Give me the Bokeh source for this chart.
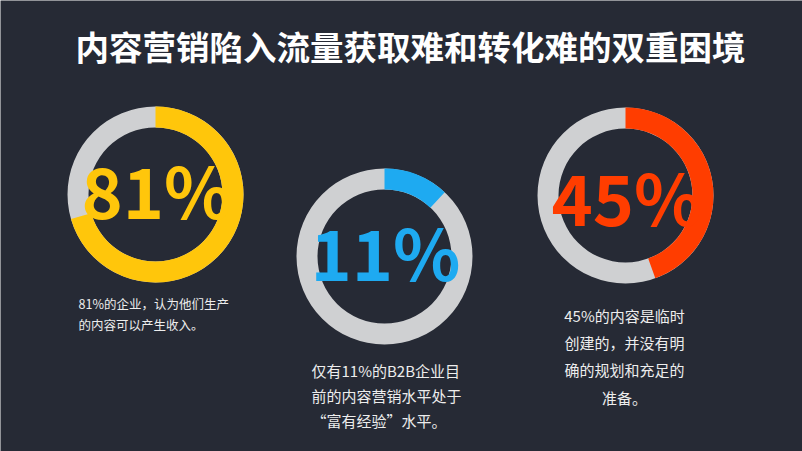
from bokeh.plotting import figure
from bokeh.models import Range1d, ColumnDataSource
from bokeh.core.properties import value
from bokeh.embed import file_html
from bokeh.resources import INLINE
import math

# ---- data ----
title = "内容营销陷入流量获取难和转化难的双重困境"
pct_labels = ["81%", "11%", "45%"]
pct_values = [81, 11, 45]
# share of each ring drawn in colour, as it appears in the picture
arc_shares = [0.705, 0.12, 0.445]
ring_colors = ["#FFC60B", "#1EAAF1", "#FF3D00"]
caption_left = ["81%的企业，认为他们生产", "的内容可以产生收入。"]
caption_mid = ["仅有11%的B2B企业目", "前的内容营销水平处于", "“富有经验”水平。"]
caption_right = ["45%的内容是临时", "创建的，并没有明", "确的规划和充足的", "准备。"]

W, H = 802, 451
BG = "#262A35"
GRAY = "#CFD0D2"
FONT = value("Noto Sans CJK SC")

p = figure(width=W, height=H, output_backend="svg", toolbar_location=None,
           x_range=Range1d(0, W), y_range=Range1d(0, H),
           x_axis_location=None, y_axis_location=None, min_border=0)
p.background_fill_color = BG
p.border_fill_color = BG
p.outline_line_color = None
p.xgrid.visible = False
p.ygrid.visible = False

def Y(y):
    return H - y

# ring layout (screen positions)
cx = [155, 384, 625]
cy = [Y(194), Y(256), Y(195)]
r_in, r_out = 67, 88

start = [math.pi / 2] * 3
end = [math.pi / 2 - 2 * math.pi * s for s in arc_shares]

p.annulus(x=cx, y=cy, inner_radius=r_in, outer_radius=r_out,
          fill_color=GRAY, line_color=None)
p.annular_wedge(x=cx, y=cy, inner_radius=r_in, outer_radius=r_out,
                start_angle=start, end_angle=end, direction="clock",
                fill_color=ring_colors, line_color=None)

# big percentages
src = ColumnDataSource(dict(x=[156, 385, 626], y=[Y(188), Y(250), Y(195)],
                            t=pct_labels, c=ring_colors))
p.text(x="x", y="y", text="t", text_color="c", source=src,
       text_font=FONT, text_font_style="bold", text_font_size="70px",
       text_align="center", text_baseline="middle")

# title
p.text(x=[410], y=[Y(45)], text=[title], text_color="#FFFFFF",
       text_font=FONT, text_font_style="bold", text_font_size="33.5px",
       text_align="center", text_baseline="middle")

# captions
p.text(x=[78] * len(caption_left), y=[Y(303), Y(324)], text=caption_left,
       text_color="#EDEDED", text_font=FONT, text_font_size="12.5px",
       text_align="left", text_baseline="middle")
p.text(x=[311] * len(caption_mid), y=[Y(370), Y(395), Y(420)], text=caption_mid,
       text_color="#EDEDED", text_font=FONT, text_font_size="15px",
       text_align="left", text_baseline="middle")
p.text(x=[624] * len(caption_right), y=[Y(315), Y(342), Y(369), Y(397)],
       text=caption_right, text_color="#EDEDED", text_font=FONT,
       text_font_size="15px", text_align="center", text_baseline="middle")

open("out.html", "w").write(file_html(p, INLINE))
